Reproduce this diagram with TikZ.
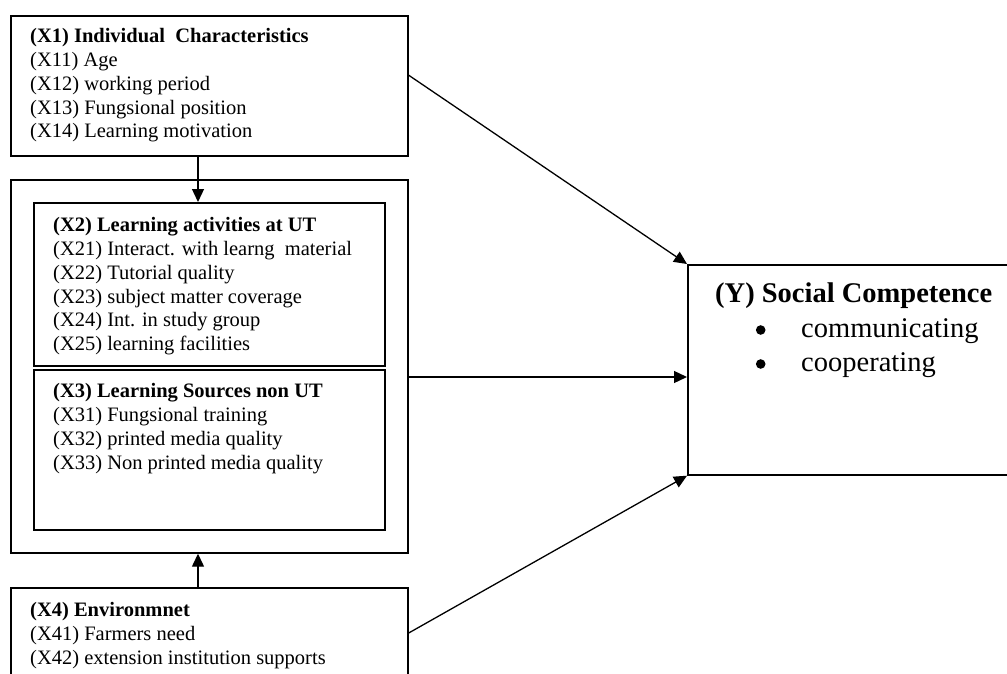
\documentclass[tikz,border=0pt]{standalone}
\usepackage{fontspec}
\setmainfont{Liberation Serif}
\usetikzlibrary{arrows.meta,calc}
\begin{document}
\begin{tikzpicture}[x=1pt,y=-1pt,
  box/.style={draw,line width=1.7pt,inner sep=0pt,anchor=north west},
  txt/.style={inner sep=0pt,anchor=north west,align=left,font=\fontsize{20.5}{23.7}\selectfont},
  bigtxt/.style={inner sep=0pt,anchor=north west,align=left,font=\fontsize{28.5}{34.5}\selectfont},
  dot/.style={fill=black},
  arr/.style={line width=1.3pt,-{Triangle[length=13pt,width=12pt]}}]
\useasboundingbox (0,0) rectangle (1007,674);
\clip (0,0) rectangle (1007,674);
% boxes
\node[box,minimum width=397pt,minimum height=140pt] (x1) at (10,15) {};
\node[box,minimum width=397pt,minimum height=373pt] (outer) at (10,179) {};
\node[box,minimum width=351pt,minimum height=163pt] (x2) at (33,202) {};
\node[box,minimum width=351pt,minimum height=160pt] (x3) at (33,369) {};
\node[box,minimum width=397pt,minimum height=120pt] (x4) at (10,587) {};
\node[box,minimum width=360pt,minimum height=210pt] (y) at (687,264) {};
% texts
\node[txt] (t1) at (30,28.5) {\textbf{(X1) Individual~ Characteristics}\\(X11) Age\\(X12) working period\\(X13) Fungsional position\\(X14) Learning motivation};
\node[txt] (t2) at (53,217.5) {\textbf{(X2) Learning activities at UT}\\(X21) Interact. with learng~ material\\(X22) Tutorial quality\\(X23) subject matter coverage\\(X24) Int. in study group\\(X25) learning facilities};
\node[txt] (t3) at (53,383.5) {\textbf{(X3) Learning Sources non UT}\\(X31) Fungsional training\\(X32) printed media quality\\(X33) Non printed media quality};
\node[txt] (t4) at (30,602.5) {\textbf{(X4) Environmnet}\\(X41) Farmers need\\(X42) extension institution supports};
\node[bigtxt] (ty) at (715,283) {\textbf{(Y) Social Competence}\\\hspace*{86pt}communicating\\\hspace*{86pt}cooperating};
\fill[dot] (760.7,330) circle (4.8);
\fill[dot] (760.7,364) circle (4.8);
% connectors
\coordinate (ax) at (198,0);
\coordinate (ay) at (0,377);
\draw[arr] (x1.south -| ax) -- (x2.north -| ax);
\draw[arr] (x4.north -| ax) -- (outer.south -| ax);
\draw[arr] ($(x1.north east)!0.425!(x1.south east)$) -- (y.north west);
\draw[arr] (outer.east |- ay) -- (y.west |- ay);
\draw[arr] (x4.east |- 0,633) -- (y.south west);
\end{tikzpicture}
\end{document}
